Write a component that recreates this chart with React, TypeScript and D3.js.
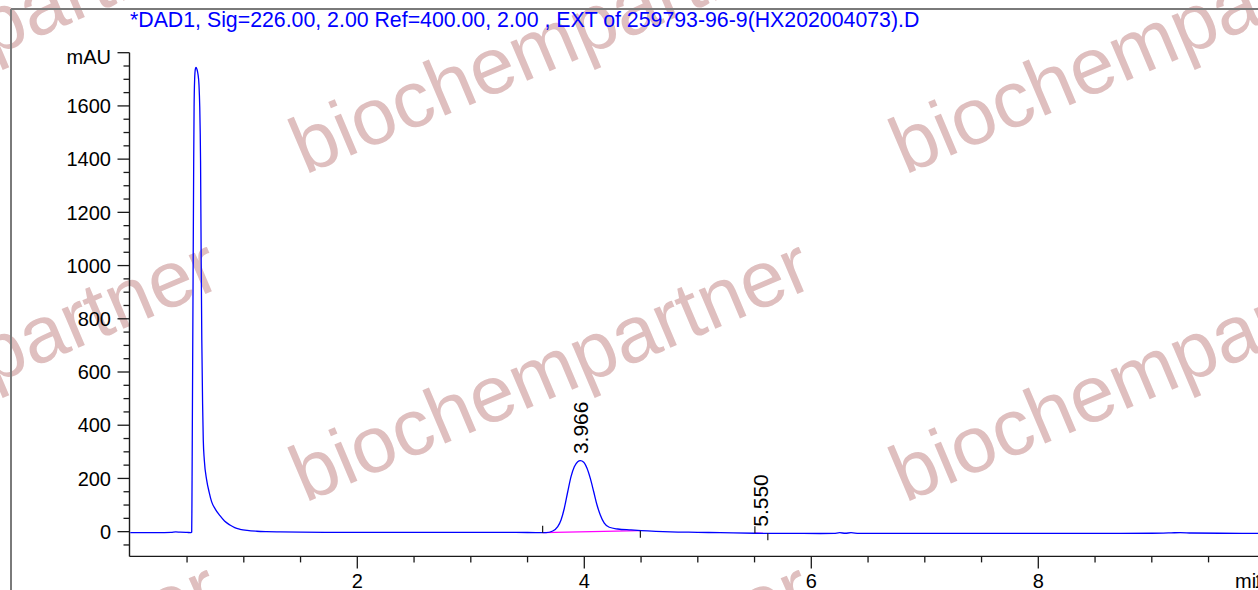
import React from "react";
import * as d3 from "d3";

const TITLE = "*DAD1, Sig=226.00, 2.00 Ref=400.00, 2.00 , EXT of 259793-96-9(HX202004073).D";
const Y_UNIT = "mAU";
const X_UNIT = "min";
const WATERMARK = "biochempartner";

const xMajorTicks = [2, 4, 6, 8, 10];
const xMinorTicks = [0.5, 1, 1.5, 2.5, 3, 3.5, 4.5, 5, 5.5, 6.5, 7, 7.5, 8.5, 9, 9.5];
const yMajorTicks = [0, 200, 400, 600, 800, 1000, 1200, 1400, 1600, 1800];
const yMinorTicks = [-50, 50, 100, 150, 250, 300, 350, 450, 500, 550, 650, 700, 750, 850, 900, 950, 1050, 1100, 1150, 1250, 1300, 1350, 1450, 1500, 1550, 1650, 1700, 1750];

// chromatogram trace (min, mAU)
const times = [
  0.0, 0.1, 0.2, 0.3, 0.36, 0.4, 0.44, 0.5, 0.535,
  0.541, 0.543, 0.546, 0.552, 0.5586, 0.562, 0.567, 0.573, 0.579, 0.587, 0.596, 0.605, 0.612, 0.616, 0.619, 0.624, 0.63, 0.637, 0.643,
  0.652, 0.673, 0.695, 0.717, 0.75, 0.79, 0.83, 0.878, 0.92, 0.967, 1.03, 1.114, 1.2, 1.32, 1.5, 1.8, 2.2, 2.6, 3.0, 3.3, 3.5, 3.663,
  3.722, 3.766, 3.795, 3.824, 3.854, 3.883, 3.912, 3.942, 3.965, 3.995, 4.024, 4.053, 4.083, 4.112, 4.141, 4.176, 4.22, 4.294, 4.411, 4.5,
  4.63, 4.76, 5.0, 5.2, 5.5, 5.8, 6.08, 6.2, 6.25, 6.3, 6.35, 6.42, 6.7, 7.0, 7.5, 8.0, 8.5, 9.0, 9.17, 9.25, 9.35, 9.6, 10.0,
];
const signal = [
  -3.5, -3.5, -3.5, -3.5, -3, -1, -2, -3, -3.5,
  -2, 100, 344, 850, 1393, 1594, 1700, 1738, 1745, 1738, 1720, 1680, 1594, 1500, 1393, 1050, 720, 480, 344,
  269, 194, 148, 112, 84, 60, 40, 25, 15, 9, 4.5, 1.5, 0, -1, -2, -2.5, -3, -3, -3, -3, -3.2, -3.8,
  2.6, 19, 44, 88, 150, 207, 244, 263, 267, 261, 238, 200, 150, 100, 63, 32, 16.5, 10, 6.4, 3.8,
  1, -1, -2.5, -3.8, -6, -6.5, -7, -6.5, -4, -6, -4, -6.5, -6.5, -6.5, -6.5, -6.5, -6.5, -6, -4.5, -3.5, -5, -6, -6.5,
];

// integration events
const peakLabels = ["3.966", "5.550"];
const peakTimes = [3.966, 5.55];
const peakTops = [267, -6];
const peakStarts = [3.633, 5.503];
const peakEnds = [4.494, 5.617];
const baseStartVals = [-3.8, -6];
const baseEndVals = [3.8, -6.2];

// watermark anchors (decoration)
const wmCols = [-287, 305, 905];
const wmRows = [175, 503, 826];

const FONT = "'Liberation Sans', Arial, Helvetica, sans-serif";

export default function App() {
  const W = 1258;
  const H = 590;
  const x = d3.scaleLinear().domain([0, 10]).range([130.3, 1265.3]);
  const y = d3.scaleLinear().domain([-93, 1800]).range([556.4, 52.7]);
  const axisX = 129.5;
  const axisY = y(-93);

  const pts: [number, number][] = times.map((t, i) => [t, signal[i]]);
  const line = d3
    .line<[number, number]>()
    .x((d) => x(d[0]))
    .y((d) => y(d[1]))
    .curve(d3.curveMonotoneX);

  const axisColor = "#1a1a1a";

  return (
    <div style={{ position: "fixed", left: 0, top: 0, width: W, height: H, background: "#fff" }}>
      <svg width={W} height={H} viewBox={`0 0 ${W} ${H}`} style={{ display: "block" }}>
        <rect x={0} y={0} width={W} height={H} fill="#fff" />
        {/* watermark */}
        <g fill="#dfbfbf" fontFamily={FONT} fontSize={80}>
          {wmRows.map((ry, i) =>
            wmCols.map((cx, j) => (
              <text key={`${i}-${j}`} transform={`translate(${cx},${ry}) rotate(-23)`}>
                {WATERMARK}
              </text>
            ))
          )}
        </g>
        {/* frame */}
        <line x1={11} y1={9} x2={W} y2={9} stroke="#7a7a7a" strokeWidth={2} />
        <line x1={11} y1={9} x2={11} y2={H} stroke="#7a7a7a" strokeWidth={2} />
        {/* title */}
        <text x={130} y={27} fill="#0000ff" fontFamily={FONT} fontSize={21.3}>
          {TITLE}
        </text>
        {/* y axis */}
        <line x1={axisX} y1={y(1800)} x2={axisX} y2={axisY} stroke={axisColor} strokeWidth={1.4} />
        {yMajorTicks.map((v) => (
          <line key={`ym${v}`} x1={axisX - 12} x2={axisX} y1={y(v)} y2={y(v)} stroke={axisColor} strokeWidth={1.3} />
        ))}
        {yMinorTicks.map((v) => (
          <line key={`yn${v}`} x1={axisX - 6} x2={axisX} y1={y(v)} y2={y(v)} stroke={axisColor} strokeWidth={1.3} />
        ))}
        <g fontFamily={FONT} fontSize={20} fill="#000" textAnchor="end">
          {yMajorTicks.map((v) =>
            v === 1800 ? (
              <text key={`yl${v}`} x={111} y={y(v) + 11.5}>
                {Y_UNIT}
              </text>
            ) : (
              <text key={`yl${v}`} x={111} y={y(v)} dy="0.36em">
                {d3.format("d")(v)}
              </text>
            )
          )}
        </g>
        {/* x axis */}
        <line x1={axisX} y1={axisY} x2={W + 10} y2={axisY} stroke={axisColor} strokeWidth={1.4} />
        {xMajorTicks.map((v) => (
          <line key={`xm${v}`} x1={x(v)} x2={x(v)} y1={axisY} y2={axisY + 12} stroke={axisColor} strokeWidth={1.3} />
        ))}
        {xMinorTicks.map((v) => (
          <line key={`xn${v}`} x1={x(v)} x2={x(v)} y1={axisY} y2={axisY + 6} stroke={axisColor} strokeWidth={1.3} />
        ))}
        <g fontFamily={FONT} fontSize={20} fill="#000" textAnchor="middle">
          {xMajorTicks.map((v) => (
            <text key={`xl${v}`} x={x(v)} y={588}>
              {v}
            </text>
          ))}
        </g>
        <text x={1235} y={588} fontFamily={FONT} fontSize={20} fill="#000">
          {X_UNIT}
        </text>
        {/* integration baselines */}
        {peakStarts.map((s, i) => (
          <line
            key={`pb${i}`}
            x1={x(s)}
            y1={y(baseStartVals[i])}
            x2={x(peakEnds[i])}
            y2={y(baseEndVals[i])}
            stroke="#ff00ff"
            strokeWidth={1.3}
          />
        ))}
        {/* trace */}
        <path d={line(pts) || ""} fill="none" stroke="#0000ff" strokeWidth={1.3} />
        {/* integration ticks */}
        {peakStarts.map((s, i) => (
          <g key={`pt${i}`} stroke={axisColor} strokeWidth={1.2}>
            <line x1={x(s)} x2={x(s)} y1={y(baseStartVals[i])} y2={y(baseStartVals[i]) - 7} />
            <line x1={x(peakEnds[i])} x2={x(peakEnds[i])} y1={y(baseEndVals[i])} y2={y(baseEndVals[i]) + 7} />
          </g>
        ))}
        {/* peak labels */}
        <g fontFamily={FONT} fontSize={21} fill="#000">
          {peakTimes.map((t, i) => (
            <text key={`lab${i}`} transform={`translate(${x(t) + 8},${y(peakTops[i]) - 6.5}) rotate(-90)`}>
              {peakLabels[i]}
            </text>
          ))}
        </g>
      </svg>
    </div>
  );
}
